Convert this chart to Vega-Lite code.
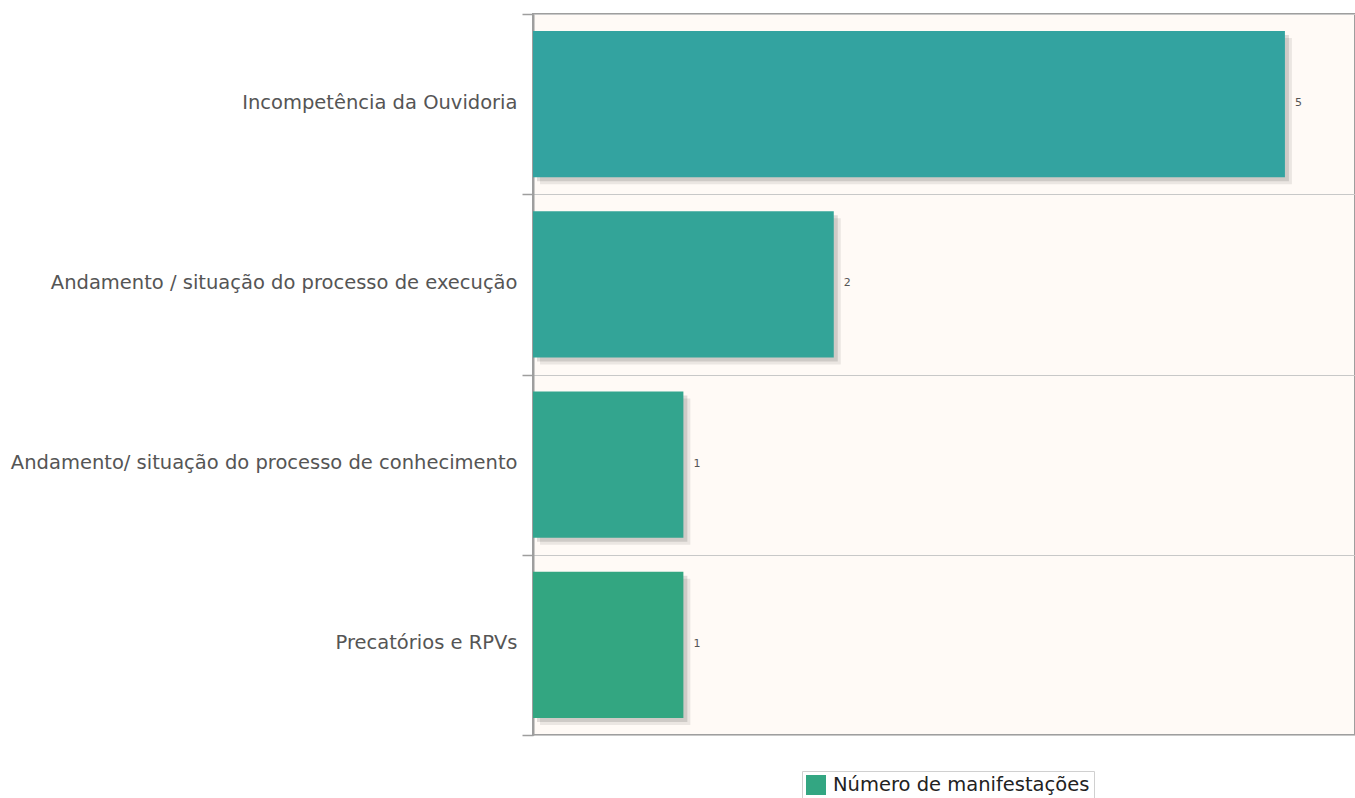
{
  "$schema": "https://vega.github.io/schema/vega-lite/v6.json",
  "autosize": "none",
  "width": 822,
  "height": 721,
  "padding": {"left": 533, "top": 14, "right": 0, "bottom": 63},
  "background": "white",
  "config": {
    "font": "DejaVu Sans",
    "view": {"stroke": "#9e9e9e", "strokeWidth": 2, "fill": "#fffaf6"}
  },
  "data": {
    "values": [
      {"categoria": "Incompetência da Ouvidoria", "valor": 5, "serie": "Número de manifestações"},
      {"categoria": "Andamento / situação do processo de execução", "valor": 2, "serie": "Número de manifestações"},
      {"categoria": "Andamento/ situação do processo de conhecimento", "valor": 1, "serie": "Número de manifestações"},
      {"categoria": "Precatórios e RPVs", "valor": 1, "serie": "Número de manifestações"}
    ]
  },
  "encoding": {
    "y": {
      "field": "categoria",
      "type": "nominal",
      "sort": null,
      "scale": {"paddingInner": 0, "paddingOuter": 0},
      "axis": {
        "title": null,
        "tickBand": "extent",
        "tickSize": 11,
        "tickColor": "#9e9e9e",
        "tickWidth": 1.5,
        "labelPadding": 5,
        "labelFontSize": 19.5,
        "labelOffset": -2,
        "labelColor": "#555555",
        "labelLimit": 600,
        "domainColor": "#9e9e9e",
        "domainWidth": 2,
        "grid": true,
        "gridColor": "#c8c8c8",
        "gridWidth": 1.2
      }
    },
    "x": {
      "field": "valor",
      "type": "quantitative",
      "scale": {"domain": [0, 5.466], "nice": false, "zero": true},
      "axis": null
    }
  },
  "layer": [
    {
      "mark": {"type": "bar", "color": "#000000", "opacity": 0.08, "xOffset": 7, "yOffset": 7, "height": {"band": 0.81}}
    },
    {
      "mark": {"type": "bar", "color": "#000000", "opacity": 0.12, "xOffset": 4, "yOffset": 4, "height": {"band": 0.81}}
    },
    {
      "mark": {"type": "bar", "opacity": 0, "height": {"band": 0.81}},
      "encoding": {
        "color": {
          "field": "serie",
          "type": "nominal",
          "scale": {"range": ["#33a682"]},
          "legend": {
            "title": null,
            "orient": "none",
            "legendX": 269,
            "legendY": 757,
            "direction": "horizontal",
            "symbolType": "square",
            "symbolSize": 400,
            "symbolOpacity": 1,
            "symbolStrokeWidth": 0,
            "labelFontSize": 19.5,
            "labelColor": "#222222",
            "labelLimit": 400,
            "labelOffset": 7,
            "padding": 4,
            "strokeColor": "#d0d0d0",
            "fillColor": "white"
          }
        }
      }
    },
    {
      "mark": {"type": "bar", "height": {"band": 0.81}},
      "encoding": {
        "fill": {
          "field": "categoria",
          "type": "nominal",
          "sort": null,
          "scale": {
            "domain": [
              "Incompetência da Ouvidoria",
              "Andamento / situação do processo de execução",
              "Andamento/ situação do processo de conhecimento",
              "Precatórios e RPVs"
            ],
            "range": ["#33a3a0", "#33a498", "#33a58e", "#33a681"]
          },
          "legend": null
        }
      }
    },
    {
      "mark": {"type": "text", "align": "left", "baseline": "middle", "dx": 10, "dy": -1, "fontSize": 11, "color": "#555555"},
      "encoding": {"text": {"field": "valor", "type": "quantitative"}}
    }
  ]
}
